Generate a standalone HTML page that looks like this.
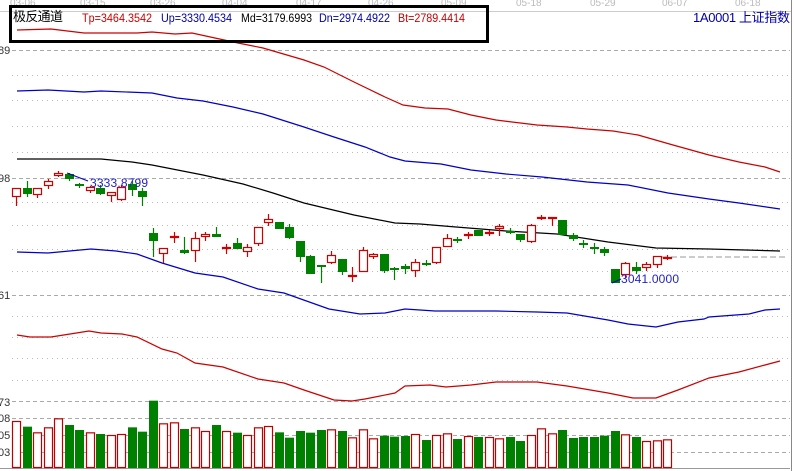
<!DOCTYPE html>
<html><head><meta charset="utf-8"><style>
html,body{margin:0;padding:0;background:#fff;}
svg{display:block;font-family:"Liberation Sans","Noto Sans CJK SC",sans-serif;}
</style></head><body>
<svg id="s" width="794" height="471" viewBox="0 0 794 471" xmlns="http://www.w3.org/2000/svg">
<rect width="794" height="471" fill="#fff"/>
<g fill="#bbb" font-size="10">
<text x="10" y="6">03-06</text><text x="80" y="6">03-15</text><text x="150" y="6">03-26</text><text x="222" y="6">04-04</text><text x="296" y="6">04-17</text><text x="368" y="6">04-26</text><text x="441" y="6">05-09</text><text x="516" y="6">05-18</text><text x="590" y="6">05-29</text><text x="662" y="6">06-07</text><text x="735" y="6">06-18</text>
</g>
<line x1="0" y1="11.5" x2="792" y2="11.5" stroke="#ccc"/>
<line x1="791.5" y1="0" x2="791.5" y2="471" stroke="#888"/>
<g id="grid"></g>
<g font-size="11" fill="#333">
<text x="-2" y="54">89</text><text x="-2" y="182">98</text><text x="-2" y="299">61</text><text x="-2" y="406">73</text><text x="-2" y="422">08</text><text x="-2" y="439">05</text><text x="-2" y="456">03</text>
</g>
<g fill="none" stroke-width="1.2">
<polyline stroke="#cc0000" points="17,30 51,29 84,33 137,33 152,32 175,34 192,33 238,43 263,48 304,60 324,67 354,82 385,97 403,105 425,108 448,109 471,115 496,120 537,125 567,127 587,129 613,131 638,135 673,145 709,155 739,162 765,167 780,172"/>
<polyline stroke="#0000cc" points="17,91 48,90 84,92 101,91 152,93 177,98 203,101 233,107 263,114 304,127 334,137 365,147 390,157 405,161 441,164 471,170 506,174 542,177 587,182 628,185 668,193 709,199 739,203 780,209"/>
<polyline stroke="#000" points="17,159 101,159 132,162 152,165 203,175 243,184 273,193 304,203 354,215 395,223 420,224 456,227 506,231 557,234 608,242 656,248 709,249 780,251"/>
<polyline stroke="#0000cc" points="17,252 48,253 91,249 116,251 137,254 162,263 195,273 223,277 258,289 284,293 329,309 360,314 385,313 405,309 435,311 496,311 537,312 567,313 608,320 628,324 656,327 678,322 704,319 709,317 749,314 765,310 780,309"/>
<polyline stroke="#cc0000" points="17,335 30,337 51,337 89,331 101,333 122,334 137,337 162,349 177,353 195,363 223,367 258,379 284,383 304,390 334,400 352,401 365,399 395,393 405,386 430,385 446,387 471,385 496,382 537,382 567,386 608,393 633,398 656,398 678,390 709,378 739,372 765,365 780,361"/>
</g>
<line x1="662" y1="257" x2="786" y2="257" stroke="#999" stroke-dasharray="6,3"/>
<g id="cd"></g>
<g id="vol"></g>
<line x1="67" y1="173" x2="88" y2="181" stroke="#0000cc"/>
<text x="90" y="187" font-size="12" fill="#2222cc" textLength="58">3333.8799</text>
<line x1="612" y1="283" x2="621" y2="279" stroke="#0000cc"/>
<text x="621" y="283" font-size="12" fill="#2222cc" textLength="58">3041.0000</text>
<rect x="10.5" y="6.5" width="477" height="35" fill="none" stroke="#000" stroke-width="3"/>
<g font-size="12">
<text x="13" y="21" fill="#000" font-size="13" textLength="50">极反通道</text>
<text x="82" y="22" fill="#cc0000" textLength="70" lengthAdjust="spacingAndGlyphs">Tp=3464.3542</text>
<text x="161" y="22" fill="#0000aa" textLength="71" lengthAdjust="spacingAndGlyphs">Up=3330.4534</text>
<text x="241" y="22" fill="#000" textLength="71" lengthAdjust="spacingAndGlyphs">Md=3179.6993</text>
<text x="319" y="22" fill="#0000aa" textLength="71" lengthAdjust="spacingAndGlyphs">Dn=2974.4922</text>
<text x="398" y="22" fill="#cc0000" textLength="67" lengthAdjust="spacingAndGlyphs">Bt=2789.4414</text>
<text x="693" y="22" fill="#0000aa" font-size="13" textLength="97">1A0001  上证指数</text>
</g>
</svg>
<script>
var NS="http://www.w3.org/2000/svg";
function el(p,t,a){var e=document.createElementNS(NS,t);for(var k in a)e.setAttribute(k,a[k]);document.getElementById(p).appendChild(e);}
[50,178,295,401,418,435,452].forEach(function(y){el("grid","line",{x1:12,y1:y+.5,x2:790,y2:y+.5,stroke:"#aaa","stroke-dasharray":"4,3"});});
[75,100,126,152,202,225,249,271,316,337,358,380].forEach(function(y){el("grid","line",{x1:12,y1:y+.5,x2:790,y2:y+.5,stroke:"#bbb","stroke-dasharray":"1,4"});});
el("grid","line",{x1:0,y1:468.5,x2:790,y2:468.5,stroke:"#999"});
var C=[["r",188,197,188,206],["g",188,194,181,197],["r",188,195,188,198],["r",181,186,179,189],["r",173,176,171,177],["g",174,179,173,181],["g",184,186,183,188],["r",187,191,186,193],["g",188,194,185,195],["r",192,196,192,202],["r",187,200,185,201],["g",184,190,181,196],["g",191,197,188,206],
["g",233,241,228,257],["r",248,254,248,263],["r",236,237,232,243],["g",250,253,237,254],["r",238,251,232,262],["r",234,237,232,241],["g",234,237,227,237],["r",247,249,244,254],["g",243,249,238,249],["r",247,252,244,257],["r",227,244,227,246],["r",219,223,214,226],["g",222,229,222,229],["g",227,238,224,239],["g",241,257,241,262],["g",256,274,255,274],["g",265,266,265,283],["r",255,263,251,264],["g",259,272,259,275],["r",275,276,267,282],["r",250,272,247,272],["r",254,257,253,259],["g",254,271,254,273],
["g",268,269,267,280],["g",266,269,264,274],["r",262,271,259,277],["g",263,264,260,266],["r",247,263,247,264],["r",238,247,234,247],["g",239,240,237,243],["r",234,235,232,239],["g",230,236,230,236],["r",232,234,230,236],["r",226,229,224,236],["g",231,233,228,234],["g",234,240,234,242],["r",225,242,224,243],["r",217,219,215,220],["r",217,218,217,226],["g",220,235,220,235],["g",235,239,233,241],["g",243,244,240,248],["g",247,248,243,254],["g",249,253,247,256],["g",269,283,269,283],["r",263,275,262,278],["g",267,271,262,274],["r",264,268,262,271],["r",256,265,256,268],["r",257,258,255,260]];
C.forEach(function(c,i){var x=Math.round(12+i*10.5);var col=c[0]=="r"?"#d00000":"#008000";var cx=x+4.5;
el("cd","line",{x1:cx,y1:c[3],x2:cx,y2:c[4],stroke:col,"stroke-width":1.2});
var h=Math.max(c[2]-c[1],1.5);
if(c[0]=="r")el("cd","rect",{x:x+.5,y:c[1]+.5,width:8,height:Math.max(h-1,1),fill:h<3?col:"#fff",stroke:col,"stroke-width":1.2});
else el("cd","rect",{x:x,y:c[1],width:9,height:Math.max(h,2),fill:col});});
var V=[123,140,157,142,115,135,150,157,162,165,162,142,155,62,130,127,147,142,153,135,153,158,165,142,138,157,173,153,158,150,148,153,172,148,175,167,170,168,162,180,165,160,177,168,171,171,175,171,183,165,145,160,150,174,171,171,167,153,163,171,183,181,178];
V.forEach(function(v,i){var x=Math.round(12+i*10.5);var t=380+v/3;var r=C[i][0]=="r";
if(r)el("vol","rect",{x:x+.5,y:t+.5,width:8,height:468-t-1,fill:"#fff",stroke:"#c00000","stroke-width":1.2});
else el("vol","rect",{x:x,y:t,width:9,height:468-t,fill:"#008000"});});
</script>
</body></html>
